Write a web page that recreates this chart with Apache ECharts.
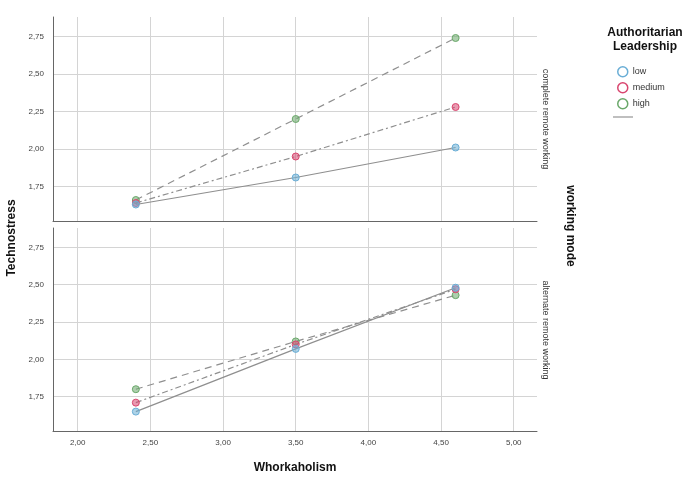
<!DOCTYPE html>
<html>
<head>
<meta charset="utf-8">
<script src="https://cdn.jsdelivr.net/npm/echarts@6/dist/echarts.min.js"></script>
<style>
  html, body { margin: 0; padding: 0; background: #fff; }
  #chart { width: 696px; height: 492px; }
</style>
</head>
<body>
<div id="chart"></div>
<script>
// values
const workaholism = [2.4, 3.5, 4.6];
const levels = ['low', 'medium', 'high'];
const completeLow = [1.63, 1.81, 2.01];
const completeMedium = [1.64, 1.95, 2.28];
const completeHigh = [1.66, 2.20, 2.74];
const alternateLow = [1.65, 2.07, 2.48];
const alternateMedium = [1.71, 2.10, 2.47];
const alternateHigh = [1.80, 2.12, 2.43];
const xTicks = [2.0, 2.5, 3.0, 3.5, 4.0, 4.5, 5.0];
const yTicks = [1.75, 2.0, 2.25, 2.5, 2.75];

const colors = { low: '#6aaed6', medium: '#d9466f', high: '#6aa86a' };
const fills = { low: 'rgba(106,174,214,0.55)', medium: 'rgba(217,70,111,0.55)', high: 'rgba(106,168,106,0.55)' };
const dashes = { low: 'solid', medium: [6, 3, 2, 3], high: [7, 5] };
const font = 'Liberation Sans, Arial, sans-serif';
const fmt = (v) => v.toFixed(2).replace('.', ',');

const chart = echarts.init(document.getElementById('chart'));

const xAxisFor = (gi, showLabels) => ({
  type: 'value',
  gridIndex: gi,
  min: 1.83,
  max: 5.16,
  axisLine: { show: true, lineStyle: { color: '#666', width: 1 } },
  axisTick: { show: false, customValues: xTicks },
  axisLabel: {
    show: showLabels,
    customValues: xTicks,
    formatter: fmt,
    fontSize: 8,
    color: '#444',
    fontFamily: font,
    margin: 8,
  },
  splitLine: { show: true, lineStyle: { color: '#d4d4d4', width: 1 } },
});

const yAxisFor = (gi) => ({
  type: 'value',
  gridIndex: gi,
  min: 1.52,
  max: 2.88,
  axisLine: { show: true, lineStyle: { color: '#666', width: 1 } },
  axisTick: { show: false, customValues: yTicks },
  axisLabel: {
    customValues: yTicks,
    formatter: fmt,
    fontSize: 8,
    color: '#444',
    fontFamily: font,
    margin: 9,
  },
  splitLine: { show: true, lineStyle: { color: '#d4d4d4', width: 1 } },
});

const makeSeries = (name, values, gi) => ({
  name: name,
  type: 'line',
  xAxisIndex: gi,
  yAxisIndex: gi,
  data: workaholism.map((x, i) => [x, values[i]]),
  symbol: 'circle',
  symbolSize: 7,
  itemStyle: { color: fills[name], borderColor: colors[name], borderWidth: 1 },
  lineStyle: { color: '#8f8f8f', width: 1.2, type: dashes[name] },
  emphasis: { disabled: true },
  z: name === 'low' ? 4 : name === 'medium' ? 3 : 2,
});

chart.setOption({
  animation: false,
  backgroundColor: '#fff',
  grid: [
    { left: 53, right: 159, top: 17, height: 204 },
    { left: 53, right: 159, top: 228, height: 203 },
  ],
  xAxis: [xAxisFor(0, false), xAxisFor(1, true)],
  yAxis: [yAxisFor(0), yAxisFor(1)],
  legend: {
    orient: 'vertical',
    left: 617,
    top: 66,
    padding: 0,
    itemGap: 4.5,
    itemWidth: 10,
    itemHeight: 10,
    icon: 'circle',
    textStyle: { fontSize: 9, color: '#333', fontFamily: font },
    data: levels.map((l) => ({
      name: l,
      itemStyle: { color: 'transparent', borderColor: colors[l], borderWidth: 1.5 },
    })),
  },
  graphic: [
    {
      type: 'text',
      style: { text: 'Authoritarian\nLeadership', x: 645, y: 26, textAlign: 'center', textVerticalAlign: 'top',
        fill: '#111', font: 'bold 12px ' + font, lineHeight: 14 },
    },
    {
      type: 'line',
      shape: { x1: 613, y1: 117, x2: 633, y2: 117 },
      style: { stroke: '#aaa', lineWidth: 1.5 },
    },
    {
      type: 'text', x: 545, y: 119, rotation: -Math.PI / 2,
      style: { text: 'complete remote working', textAlign: 'center', textVerticalAlign: 'middle',
        font: '9px ' + font, fill: '#333' },
    },
    {
      type: 'text', x: 545, y: 330, rotation: -Math.PI / 2,
      style: { text: 'alternate remote working', textAlign: 'center', textVerticalAlign: 'middle',
        font: '9px ' + font, fill: '#333' },
    },
    {
      type: 'text', x: 570, y: 226, rotation: -Math.PI / 2,
      style: { text: 'working mode', textAlign: 'center', textVerticalAlign: 'middle',
        font: 'bold 12px ' + font, fill: '#111' },
    },
    {
      type: 'text', x: 12, y: 238, rotation: Math.PI / 2,
      style: { text: 'Technostress', textAlign: 'center', textVerticalAlign: 'middle',
        font: 'bold 12px ' + font, fill: '#111' },
    },
    {
      type: 'text', x: 295, y: 468,
      style: { text: 'Whorkaholism', textAlign: 'center', textVerticalAlign: 'middle',
        font: 'bold 12px ' + font, fill: '#111' },
    },
  ],
  series: [
    makeSeries('low', completeLow, 0),
    makeSeries('medium', completeMedium, 0),
    makeSeries('high', completeHigh, 0),
    makeSeries('low', alternateLow, 1),
    makeSeries('medium', alternateMedium, 1),
    makeSeries('high', alternateHigh, 1),
  ],
});
</script>
</body>
</html>
